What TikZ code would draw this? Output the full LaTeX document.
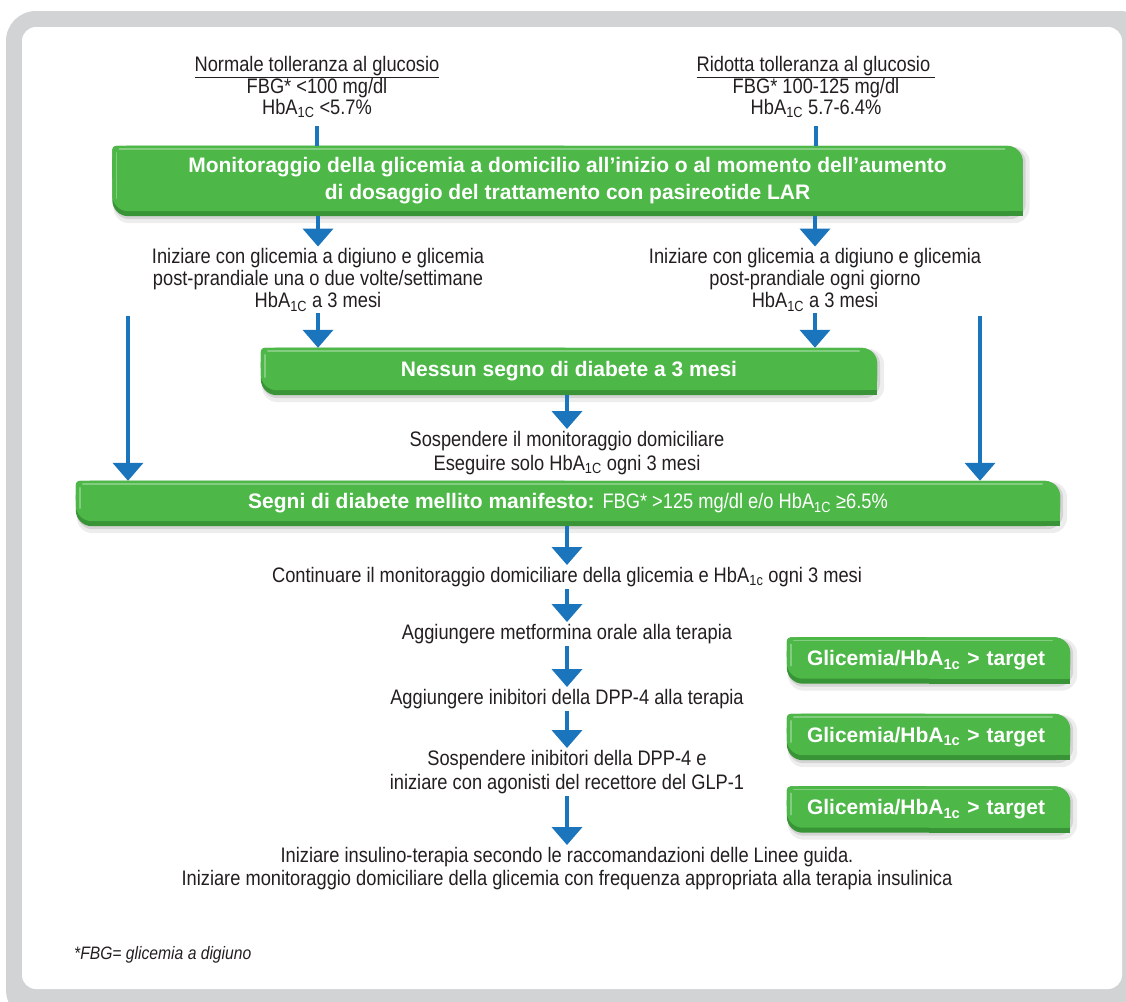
\documentclass[tikz,border=0pt]{standalone}
\usepackage{fontspec}
\setmainfont{Liberation Sans}[FakeStretch=0.87]
\newfontfamily\panelfont{Liberation Sans}
\usetikzlibrary{positioning,arrows.meta,backgrounds}
\definecolor{boxgreen}{RGB}{77,184,72}
\definecolor{boxshade}{RGB}{56,148,54}
\definecolor{arrowblue}{RGB}{27,117,188}
\definecolor{framegray}{RGB}{209,211,212}
\definecolor{textgray}{RGB}{35,31,32}
\pgfdeclarelayer{frame}
\pgfdeclarelayer{boxes}
\pgfsetlayers{frame,boxes,main}
\newcommand\HbA[1]{HbA\textsubscript{#1}}
% green panel: small top-left corner, large top-right and bottom-left corners
\newcommand\gshape[3]{%
  \fill[#2, rounded corners=16pt] ([yshift=#3]#1.south west) rectangle (#1.north east);
  \fill[#2, rounded corners=4pt] (#1.north west) rectangle (#1.center);
  \fill[#2] (#1.center) rectangle ([yshift=#3]#1.south east);}
\newcommand\greenbox[1]{%
  \begin{pgfonlayer}{boxes}
    \fill[black, opacity=0.07, rounded corners=16pt] ([xshift=1pt,yshift=-7pt]#1.south west) rectangle ([xshift=7pt,yshift=-1pt]#1.north east);
    \fill[black, opacity=0.10, rounded corners=16pt] ([xshift=1pt,yshift=-3pt]#1.south west) rectangle ([xshift=3pt,yshift=-1pt]#1.north east);
    \gshape{#1}{boxshade}{0pt}
    \gshape{#1}{boxgreen}{5pt}
    \draw[white, opacity=0.3, line width=1.5pt, line cap=round] ([xshift=7pt,yshift=-3pt]#1.north west) -- ([xshift=-18pt,yshift=-3pt]#1.north east);
    \draw[white, opacity=0.3, line width=1.5pt, line cap=round] ([xshift=4pt,yshift=-7pt]#1.north west) -- ([xshift=4pt,yshift=18pt]#1.south west);
  \end{pgfonlayer}}

\begin{document}
\begin{tikzpicture}[
    x=1pt, y=-1pt,
    txt/.style={align=center, text=textgray, font=\fontsize{21}{23}\selectfont, inner sep=2pt},
    gbox/.style={align=center, text=white, font=\panelfont\bfseries\fontsize{21}{27}\selectfont, inner sep=0pt},
    target/.style={gbox, align=left, text width=243pt, minimum width=283pt, minimum height=46pt},
    arr/.style={arrowblue, line width=4pt, -{Triangle[width=30pt,length=18pt]}},
    stub/.style={arrowblue, line width=4pt},
]
\useasboundingbox (0,0) rectangle (1126,1001);

% Frame
\begin{pgfonlayer}{frame}
  \fill[framegray, rounded corners=30pt] (6,11) rectangle (1150,1020);
  \fill[white, rounded corners=14pt] (22,27) rectangle (1122,989);
\end{pgfonlayer}

% Starting conditions
\node[txt, font=\fontsize{21}{19.5}\selectfont] (normal) at (317,87) {\underline{Normale tolleranza al glucosio}\\FBG* <100 mg/dl\\\HbA{1C} <5.7\%};
\node[txt, font=\fontsize{21}{19.5}\selectfont] (reduced) at (816,87) {\underline{Ridotta tolleranza al glucosio\ }\\FBG* 100-125 mg/dl\\\HbA{1C} 5.7-6.4\%};

% Panels and steps top-to-bottom
\node[gbox, minimum width=910pt, minimum height=70pt] (monit) at (567.5,181) {Monitoraggio della glicemia a domicilio all’inizio o al momento dell’aumento\\di dosaggio del trattamento con pasireotide LAR};
\node[txt, font=\fontsize{21}{22}\selectfont] (lowstart) at (318,280) {Iniziare con glicemia a digiuno e glicemia\\post-prandiale una o due volte/settimane\\\HbA{1C} a 3 mesi};
\node[txt, font=\fontsize{21}{22}\selectfont] (highstart) at (815,280) {Iniziare con glicemia a digiuno e glicemia\\post-prandiale ogni giorno\\\HbA{1C} a 3 mesi};
\node[gbox, minimum width=616pt, minimum height=47pt] (nosign) at (569,371.5) {Nessun segno di diabete a 3 mesi};
\node[txt, font=\fontsize{21}{24}\selectfont] (suspend) at (567,453) {Sospendere il monitoraggio domiciliare\\Eseguire solo \HbA{1C} ogni 3 mesi};
\node[gbox, minimum width=984pt, minimum height=45pt] (overt) at (568,503.5) {Segni di diabete mellito manifesto: {\normalfont FBG* >125 mg/dl e/o \HbA{1C} ≥6.5\%}};
\node[txt] (cont) at (567,577) {Continuare il monitoraggio domiciliare della glicemia e \HbA{1c} ogni 3 mesi};
\node[txt] (metf) at (567,634) {Aggiungere metformina orale alla terapia};
\node[txt] (dpp) at (567,699) {Aggiungere inibitori della DPP-4 alla terapia};
\node[txt, font=\fontsize{21}{24}\selectfont] (glp) at (567,772) {Sospendere inibitori della DPP-4 e\\iniziare con agonisti del recettore del GLP-1};
\node[txt] (insulin) at (567,868.5) {Iniziare insulino-terapia secondo le raccomandazioni delle Linee guida.\\Iniziare monitoraggio domiciliare della glicemia con frequenza appropriata alla terapia insulinica};

% Targets not reached
\node[target] (target1) at (928.5,660.5) {Glicemia/\HbA{1c} > target};
\node[target] (target2) at (928.5,737) {Glicemia/\HbA{1c} > target};
\node[target] (target3) at (928.5,809.5) {Glicemia/\HbA{1c} > target};

\node[txt, anchor=west, font=\itshape\fontsize{18}{20}\selectfont] (fbgnote) at (72,955) {*FBG= glicemia a digiuno};

\greenbox{monit}
\greenbox{nosign}
\greenbox{overt}
\greenbox{target1}
\greenbox{target2}
\greenbox{target3}

% Arrows
\draw[stub] ([yshift=-6pt]normal.south) -- (monit.north -| normal);
\draw[stub] ([yshift=-6pt]reduced.south) -- (monit.north -| reduced);
\draw[arr] (monit.south -| lowstart) -- (lowstart.north);
\draw[arr] (monit.south -| highstart) -- (highstart.north);
\draw[arr] (lowstart.south) -- (nosign.north -| lowstart);
\draw[arr] (highstart.south) -- (nosign.north -| highstart);
\coordinate (leftdrop) at (128,316);
\coordinate (rightdrop) at (980,316);
\draw[arr] (leftdrop) -- (overt.north -| leftdrop);
\draw[arr] (rightdrop) -- (overt.north -| rightdrop);
\draw[arr] (nosign.south -| suspend) -- (suspend.north);
\draw[arr] (overt.south -| cont) -- (cont.north);
\draw[arr] (cont) -- (metf);
\draw[arr] (metf) -- (dpp);
\draw[arr] (dpp) -- (glp);
\draw[arr] (glp) -- (insulin);

\end{tikzpicture}
\end{document}
